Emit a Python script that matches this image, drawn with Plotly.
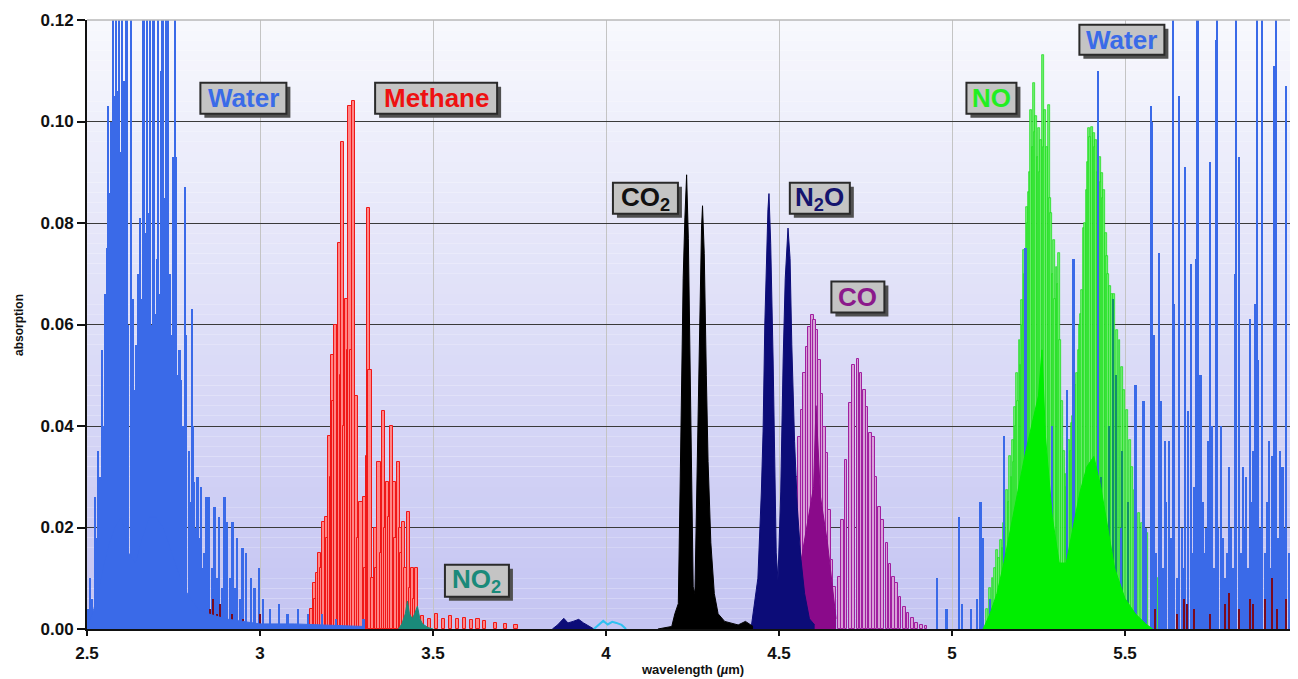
import plotly.graph_objects as go

# ---------------- data (wavelength in µm, absorption) ----------------
water_x = [2.503, 2.510, 2.516, 2.523, 2.528, 2.532, 2.537, 2.543, 2.548, 2.552, 2.555, 2.558, 2.561, 2.566, 2.569,
           2.575, 2.580, 2.584, 2.588, 2.592, 2.596, 2.601, 2.604, 2.609, 2.615, 2.620, 2.627, 2.633, 2.638,
           2.644, 2.648, 2.653, 2.659, 2.664, 2.668, 2.673, 2.679, 2.684, 2.689, 2.693, 2.699, 2.704, 2.707,
           2.710, 2.715, 2.719, 2.724, 2.728, 2.731, 2.733, 2.736, 2.740, 2.745, 2.750, 2.754, 2.759, 2.764,
           2.768, 2.772, 2.777, 2.781, 2.785, 2.788, 2.795, 2.799, 2.803, 2.808, 2.811, 2.816, 2.820, 2.825,
           2.831, 2.836, 2.840, 2.846, 2.850, 2.854, 2.862, 2.869, 2.876, 2.883, 2.890, 2.898, 2.906, 2.914,
           2.921, 2.928, 2.935, 2.942, 2.950, 2.961, 2.975, 2.985, 2.998, 3.010, 3.030, 3.055, 3.080, 3.110,
           3.140, 3.180, 3.220, 3.300,
           4.958, 4.985, 5.022, 5.030, 5.055, 5.072, 5.083, 5.091, 5.110, 5.150, 5.213, 5.290, 5.333, 5.350,
           5.352, 5.395, 5.422, 5.450, 5.490, 5.529, 5.531, 5.554, 5.560, 5.576, 5.578, 5.584, 5.585, 5.590,
           5.600, 5.604, 5.610, 5.616, 5.620, 5.628, 5.635, 5.640, 5.642, 5.650, 5.656, 5.657, 5.665, 5.670,
           5.675, 5.683, 5.691, 5.695, 5.700, 5.705, 5.710, 5.712, 5.715, 5.719, 5.725, 5.730, 5.735, 5.741,
           5.746, 5.752, 5.757, 5.763, 5.766, 5.770, 5.779, 5.785, 5.790, 5.795, 5.801, 5.808, 5.812, 5.818,
           5.822, 5.830, 5.835, 5.841, 5.845, 5.850, 5.855, 5.863, 5.868, 5.872, 5.878, 5.882, 5.885, 5.890,
           5.897, 5.905, 5.910, 5.918, 5.922, 5.927, 5.933, 5.936, 5.938, 5.943, 5.948, 5.956, 5.960, 5.967,
           5.975, 5.980, 5.986, 5.990, 5.995]
water_y = [0.004, 0.010, 0.006, 0.026, 0.018, 0.035, 0.030, 0.055, 0.040, 0.066, 0.050, 0.075, 0.103, 0.086, 0.100,
           0.150, 0.105, 0.150, 0.106, 0.150, 0.094, 0.150, 0.078, 0.108, 0.150, 0.060, 0.150, 0.065, 0.047,
           0.056, 0.070, 0.081, 0.065, 0.150, 0.078, 0.150, 0.082, 0.150, 0.060, 0.150, 0.062, 0.073, 0.150,
           0.066, 0.110, 0.150, 0.085, 0.150, 0.116, 0.066, 0.150, 0.070, 0.058, 0.093, 0.150, 0.093, 0.050,
           0.055, 0.049, 0.040, 0.030, 0.087, 0.058, 0.035, 0.025, 0.063, 0.040, 0.029, 0.020, 0.030, 0.018,
           0.028, 0.012, 0.015, 0.026, 0.010, 0.026, 0.012, 0.024, 0.010, 0.022, 0.008, 0.026, 0.021, 0.010,
           0.021, 0.008, 0.018, 0.006, 0.016, 0.015, 0.010, 0.008, 0.012, 0.006, 0.004, 0.005, 0.003, 0.004,
           0.003, 0.003, 0.002, 0.002,
           0.010, 0.004, 0.022, 0.005, 0.004, 0.006, 0.025, 0.018, 0.006, 0.038, 0.075, 0.040, 0.047, 0.061,
           0.073, 0.012, 0.110, 0.010, 0.020, 0.040, 0.048, 0.045, 0.020, 0.103, 0.100, 0.058, 0.055, 0.015,
           0.074, 0.045, 0.012, 0.037, 0.025, 0.037, 0.018, 0.150, 0.064, 0.010, 0.105, 0.102, 0.020, 0.012,
           0.091, 0.043, 0.072, 0.015, 0.028, 0.073, 0.150, 0.150, 0.020, 0.050, 0.025, 0.015, 0.020, 0.037,
           0.092, 0.040, 0.012, 0.116, 0.150, 0.020, 0.040, 0.018, 0.010, 0.015, 0.032, 0.020, 0.012, 0.070,
           0.150, 0.093, 0.015, 0.032, 0.020, 0.030, 0.012, 0.061, 0.025, 0.035, 0.064, 0.150, 0.053, 0.020,
           0.150, 0.015, 0.025, 0.037, 0.012, 0.034, 0.111, 0.150, 0.082, 0.018, 0.035, 0.032, 0.020, 0.107,
           0.015, 0.025, 0.101, 0.012, 0.050]

water_base_x = [2.500, 2.510, 2.520, 2.535, 2.550, 2.565, 2.580, 2.600, 2.620, 2.640, 2.660, 2.680, 2.700,
                2.720, 2.740, 2.760, 2.780, 2.800, 2.820, 2.850, 2.900, 2.950, 3.000, 3.100, 3.200, 3.300]
water_base_y = [0.001, 0.002, 0.004, 0.008, 0.013, 0.017, 0.020, 0.022, 0.015, 0.013, 0.018, 0.022, 0.022,
                0.020, 0.016, 0.012, 0.008, 0.006, 0.004, 0.003, 0.002, 0.0015, 0.001, 0.001, 0.0008, 0.0005]

methane_x = [3.150, 3.157, 3.162, 3.167, 3.173, 3.178, 3.183, 3.191, 3.196, 3.202, 3.206, 3.210, 3.214, 3.218,
             3.226, 3.231, 3.235, 3.239, 3.245, 3.250, 3.255, 3.260, 3.266, 3.270, 3.279, 3.285, 3.292, 3.301,
             3.306, 3.310, 3.313, 3.318, 3.325, 3.333, 3.338, 3.344, 3.350, 3.357, 3.362, 3.369, 3.375, 3.380,
             3.388, 3.393, 3.399, 3.405, 3.410, 3.416, 3.422, 3.429, 3.435, 3.440, 3.446, 3.452, 3.470, 3.490,
             3.510, 3.530, 3.550, 3.570, 3.590, 3.610, 3.630, 3.650, 3.680, 3.710, 3.740]
methane_y = [0.004, 0.009, 0.006, 0.011, 0.015, 0.012, 0.021, 0.022, 0.018, 0.038, 0.030, 0.054, 0.045, 0.060,
             0.045, 0.076, 0.050, 0.096, 0.040, 0.065, 0.055, 0.103, 0.055, 0.104, 0.046, 0.018, 0.025, 0.026,
             0.012, 0.034, 0.083, 0.051, 0.010, 0.020, 0.012, 0.033, 0.015, 0.043, 0.020, 0.029, 0.022, 0.040,
             0.029, 0.018, 0.033, 0.020, 0.015, 0.021, 0.012, 0.023, 0.008, 0.012, 0.006, 0.012, 0.0025, 0.002,
             0.003, 0.002, 0.0025, 0.002, 0.0022, 0.0018, 0.002, 0.0015, 0.0012, 0.001, 0.0008]

no2_x = [3.400, 3.410, 3.420, 3.426, 3.432, 3.440, 3.447, 3.455, 3.462, 3.470, 3.485, 3.500]
no2_y = [0.000, 0.001, 0.003, 0.0055, 0.003, 0.002, 0.003, 0.0045, 0.002, 0.001, 0.0003, 0.000]

hot_x = [3.845, 3.860, 3.878, 3.890, 3.905, 3.921, 3.935, 3.955, 3.965]
hot_y = [0.000, 0.0008, 0.0021, 0.0012, 0.0015, 0.0019, 0.0012, 0.0003, 0.000]

cyan_x = [3.965, 3.980, 3.992, 4.005, 4.018, 4.030, 4.045, 4.058]
cyan_y = [0.000, 0.0010, 0.0016, 0.0009, 0.0014, 0.0012, 0.0008, 0.000]

co2_x = [4.150, 4.190, 4.199, 4.209, 4.214, 4.218, 4.223, 4.228, 4.233, 4.238, 4.243, 4.247, 4.252, 4.257,
         4.262, 4.267, 4.271, 4.276, 4.279, 4.284, 4.290, 4.295, 4.303, 4.313, 4.324, 4.343, 4.382, 4.403, 4.425]
co2_y = [0.000, 0.0005, 0.003, 0.005, 0.027, 0.046, 0.069, 0.081, 0.0895, 0.077, 0.053, 0.027, 0.0083, 0.007,
         0.027, 0.050, 0.0675, 0.079, 0.0834, 0.074, 0.050, 0.033, 0.017, 0.007, 0.003, 0.0015, 0.0008, 0.0015, 0.0005]

n2o_x = [4.420, 4.430, 4.439, 4.449, 4.454, 4.459, 4.463, 4.468, 4.471, 4.476, 4.483, 4.488, 4.492, 4.497,
         4.505, 4.512, 4.518, 4.526, 4.532, 4.537, 4.545, 4.553, 4.563, 4.574, 4.588, 4.603]
n2o_y = [0.0005, 0.005, 0.010, 0.027, 0.039, 0.060, 0.073, 0.0826, 0.0858, 0.076, 0.053, 0.030, 0.015, 0.0097,
         0.027, 0.053, 0.069, 0.079, 0.073, 0.056, 0.037, 0.024, 0.014, 0.007, 0.002, 0.0008]

co_x = [4.478, 4.489, 4.502, 4.512, 4.521, 4.531, 4.540, 4.550, 4.560, 4.566, 4.574, 4.582, 4.588, 4.596,
        4.603, 4.610, 4.617, 4.624, 4.632, 4.639, 4.646, 4.653, 4.660, 4.675, 4.684, 4.694, 4.707, 4.716,
        4.728, 4.737, 4.747, 4.754, 4.764, 4.773, 4.780, 4.790, 4.799, 4.812, 4.821, 4.831, 4.840, 4.850,
        4.862, 4.873, 4.885, 4.898, 4.912, 4.925]
co_y = [0.0011, 0.0018, 0.0044, 0.0070, 0.0103, 0.0149, 0.0215, 0.030, 0.0379, 0.0432, 0.0504, 0.0556, 0.0596,
        0.0619, 0.0609, 0.0589, 0.053, 0.0464, 0.0399, 0.0346, 0.0234, 0.0136, 0.0083, 0.0103, 0.0215, 0.0333,
        0.0445, 0.052, 0.0533, 0.0504, 0.0471, 0.0438, 0.0386, 0.0379, 0.030, 0.0241, 0.0215, 0.0169, 0.0129,
        0.0103, 0.009, 0.0064, 0.0044, 0.0031, 0.0021, 0.0011, 0.0008, 0.0005]

co_dark_x = [4.500, 4.540, 4.560, 4.580, 4.600, 4.607, 4.612, 4.620, 4.640, 4.655, 4.665]
co_dark_y = [0.001, 0.005, 0.012, 0.020, 0.028, 0.044, 0.036, 0.026, 0.017, 0.008, 0.002]

no_x = [5.100, 5.110, 5.117, 5.124, 5.131, 5.136, 5.141, 5.146, 5.151, 5.156, 5.160, 5.164, 5.168, 5.172,
        5.175, 5.178, 5.181, 5.185, 5.189, 5.192, 5.195, 5.198, 5.201, 5.205, 5.208, 5.212, 5.216, 5.219,
        5.222, 5.226, 5.229, 5.233, 5.237, 5.241, 5.244, 5.248, 5.251, 5.255, 5.258, 5.263, 5.266, 5.270,
        5.275, 5.280, 5.284, 5.287, 5.291, 5.294, 5.298, 5.302, 5.306, 5.309, 5.313, 5.318, 5.323,
        5.328, 5.333, 5.338, 5.343, 5.347, 5.351, 5.354, 5.358, 5.362, 5.366, 5.369, 5.372, 5.376, 5.381,
        5.385, 5.389, 5.392, 5.395, 5.400, 5.405, 5.410, 5.414, 5.417, 5.422, 5.427, 5.431, 5.434, 5.437,
        5.440, 5.444, 5.448, 5.452, 5.456, 5.462, 5.469, 5.477, 5.484, 5.491, 5.498, 5.506, 5.514, 5.521,
        5.530, 5.540, 5.549, 5.564, 5.578, 5.592, 5.605]
no_y = [0.004, 0.008, 0.010, 0.012, 0.0155, 0.014, 0.0175, 0.016, 0.0208, 0.020, 0.0274, 0.025, 0.034, 0.030,
        0.0372, 0.033, 0.0438, 0.040, 0.0504, 0.045, 0.057, 0.052, 0.0648, 0.060, 0.0747, 0.070, 0.0832, 0.080,
        0.0862, 0.090, 0.1023, 0.095, 0.1075, 0.098, 0.101, 0.093, 0.0987, 0.090, 0.0964, 0.1131, 0.095, 0.1023,
        0.095, 0.1033, 0.085, 0.0819, 0.070, 0.0767, 0.065, 0.0714, 0.068, 0.074, 0.057, 0.045, 0.035,
        0.0306, 0.028, 0.0372, 0.035, 0.0405, 0.042, 0.045, 0.048, 0.0504, 0.055, 0.060, 0.062, 0.0668, 0.079,
        0.080, 0.0865, 0.092, 0.0987, 0.097, 0.0989, 0.0977, 0.095, 0.0964, 0.090, 0.0931, 0.088, 0.0898, 0.085,
        0.0865, 0.078, 0.0734, 0.070, 0.0675, 0.066, 0.066, 0.059, 0.057, 0.0517, 0.0471, 0.0431, 0.0372, 0.0320,
        0.0274, 0.0228, 0.0208, 0.0189, 0.0168, 0.010, 0.005]

no_base_x = [5.090, 5.110, 5.130, 5.150, 5.170, 5.190, 5.210, 5.230, 5.250, 5.260, 5.270, 5.290, 5.310, 5.330,
             5.350, 5.370, 5.390, 5.410, 5.430, 5.450, 5.470, 5.500, 5.530, 5.560, 5.580]
no_base_y = [0.000, 0.003, 0.007, 0.013, 0.020, 0.027, 0.034, 0.040, 0.046, 0.055, 0.038, 0.022, 0.013, 0.013,
             0.020, 0.027, 0.032, 0.034, 0.028, 0.020, 0.012, 0.006, 0.003, 0.001, 0.000]

no_hot_x = [5.200, 5.245, 5.300, 5.360, 5.400, 5.430, 5.455, 5.466, 5.475, 5.490, 5.510]
no_hot_y = [0.010, 0.012, 0.015, 0.020, 0.025, 0.030, 0.040, 0.065, 0.050, 0.035, 0.025]

misc_x = [2.855, 2.865, 2.875, 2.885, 2.900, 2.920, 2.950, 3.000, 5.586, 5.650, 5.672, 5.678, 5.700, 5.745,
          5.790, 5.800, 5.830, 5.860, 5.870, 5.905, 5.925, 5.940, 5.965, 5.980]
misc_y = [0.004, 0.006, 0.003, 0.005, 0.002, 0.003, 0.002, 0.003, 0.004, 0.003, 0.006, 0.005, 0.004, 0.003,
          0.005, 0.007, 0.004, 0.006, 0.005, 0.006, 0.010, 0.004, 0.006, 0.004]

x_ticks = [2.5, 3.0, 3.5, 4.0, 4.5, 5.0, 5.5, 6.0]
x_ticktext = ["2.5", "3", "3.5", "4", "4.5", "5", "5.5", "6"]
y_ticks = [0.00, 0.02, 0.04, 0.06, 0.08, 0.10, 0.12]

# label text, centre (µm, absorption), text colour, box size in px (w, h)
labels = [
    ("Water", 2.952, 0.1046, "#3a6be8", 86, 31),
    ("Methane", 3.509, 0.1046, "#ee1111", 122, 31),
    ("CO<sub>2</sub>", 4.114, 0.0849, "#111111", 65, 31),
    ("N<sub>2</sub>O", 4.618, 0.0849, "#14146e", 60, 31),
    ("CO", 4.728, 0.0654, "#8b1a8b", 53, 31),
    ("NO<sub>2</sub>", 3.627, 0.0095, "#1a8a7a", 64, 32),
    ("NO", 5.114, 0.1046, "#22ee22", 50, 31),
    ("Water", 5.491, 0.1161, "#3a6be8", 85, 30),
]

# ---------------- figure ----------------
fig = go.Figure()

fig.add_trace(go.Bar(x=co_x, y=co_y, width=0.0075,
                     marker=dict(color="#d8a0d8", line=dict(color="#a020a0", width=1))))
fig.add_trace(go.Scatter(x=co_dark_x, y=co_dark_y, mode="lines", fill="tozeroy",
                         line=dict(color="#8a0a8a", width=1), fillcolor="#8a0a8a"))
fig.add_trace(go.Scatter(x=n2o_x, y=n2o_y, mode="lines", fill="tozeroy",
                         line=dict(color="#0c0c78", width=1), fillcolor="#0c0c78"))
fig.add_trace(go.Scatter(x=co2_x, y=co2_y, mode="lines", fill="tozeroy",
                         line=dict(color="#000000", width=1), fillcolor="#000000"))
fig.add_trace(go.Scatter(x=hot_x, y=hot_y, mode="lines", fill="tozeroy",
                         line=dict(color="#0c0c78", width=1), fillcolor="#0c0c78"))
fig.add_trace(go.Scatter(x=cyan_x, y=cyan_y, mode="lines",
                         line=dict(color="#30c0f0", width=2)))
fig.add_trace(go.Bar(x=methane_x, y=methane_y, width=0.009,
                     marker=dict(color="#ff8686", line=dict(color="#f01818", width=1))))
fig.add_trace(go.Scatter(x=no2_x, y=no2_y, mode="lines", fill="tozeroy",
                         line=dict(color="#1a8a7a", width=1), fillcolor="#1a8a7a"))
fig.add_trace(go.Scatter(x=no_base_x, y=no_base_y, mode="lines", fill="tozeroy",
                         line=dict(color="#00ee00", width=1), fillcolor="#00ee00"))
fig.add_trace(go.Bar(x=no_x, y=no_y, width=0.0055,
                     marker=dict(color="#74ee74", line=dict(color="#12dd12", width=0.7))))
fig.add_trace(go.Bar(x=no_hot_x, y=no_hot_y, width=0.003,
                     marker=dict(color="#10906a", line=dict(width=0))))
fig.add_trace(go.Scatter(x=water_base_x, y=water_base_y, mode="lines", fill="tozeroy",
                         line=dict(color="#3a6ae8", width=1), fillcolor="#3a6ae8"))
fig.add_trace(go.Bar(x=water_x, y=water_y, width=0.0048,
                     marker=dict(color="#3a6ae8", line=dict(width=0))))
fig.add_trace(go.Bar(x=misc_x, y=misc_y, width=0.003,
                     marker=dict(color="#7a0a20", line=dict(width=0))))

# gradient plot background
n_bands = 60
top = (247, 248, 253)
bot = (196, 196, 242)
shapes = []
for i in range(n_bands):
    t = i / (n_bands - 1)
    c = tuple(int(round(bot[k] + (top[k] - bot[k]) * t)) for k in range(3))
    shapes.append(dict(type="rect", xref="x domain", yref="y domain", x0=0, x1=1,
                       y0=i / n_bands, y1=(i + 1) / n_bands, layer="below",
                       fillcolor="rgb(%d,%d,%d)" % c, line=dict(width=0)))
shapes.append(dict(type="line", xref="x domain", yref="y domain", x0=0, x1=1, y0=1, y1=1,
                   layer="above", line=dict(color="#b8b8b8", width=1.5)))

annotations = []
for text, x, y, col, w, h in labels:
    shapes.append(dict(type="rect", xref="x", yref="y", xsizemode="pixel", ysizemode="pixel",
                       xanchor=x, yanchor=y, x0=-w / 2 + 4, x1=w / 2 + 4, y0=-h / 2 - 4, y1=h / 2 - 4,
                       layer="above", fillcolor="#505050", line=dict(width=0)))
    shapes.append(dict(type="rect", xref="x", yref="y", xsizemode="pixel", ysizemode="pixel",
                       xanchor=x, yanchor=y, x0=-w / 2, x1=w / 2, y0=-h / 2, y1=h / 2,
                       layer="above", fillcolor="#c4c4c4", line=dict(color="#2a2a2a", width=2)))
    annotations.append(dict(x=x, y=y, text="<b>%s</b>" % text, showarrow=False,
                            font=dict(family="Liberation Sans, Arial", size=26, color=col)))

annotations.append(dict(xref="paper", yref="paper", x=0.5, y=-0.066, yanchor="middle",
                        text="<b>wavelength (<i>µ</i>m)</b>", showarrow=False,
                        font=dict(family="Liberation Sans, Arial", size=13, color="#111")))
annotations.append(dict(xref="paper", yref="paper", x=-0.064, y=0.5, textangle=-90,
                        text="<b>absorption</b>", showarrow=False,
                        font=dict(family="Liberation Sans, Arial", size=12, color="#111")))

# the page adds an 8px body margin, so the figure is 8px smaller and margins shifted
fig.update_layout(
    width=1290, height=671,
    margin=dict(l=79, r=0, t=12, b=50),
    paper_bgcolor="white", plot_bgcolor="white",
    barmode="overlay", bargap=0, showlegend=False,
    shapes=shapes, annotations=annotations,
    font=dict(family="Liberation Sans, Arial", color="#111"),
)
fig.update_xaxes(range=[2.5, 6.0], tickvals=x_ticks, ticktext=x_ticktext,
                 showgrid=True, gridcolor="#c4c4c4", gridwidth=1,
                 showline=True, linecolor="#111", linewidth=2,
                 ticks="outside", ticklen=5, tickcolor="#111", tickwidth=2,
                 tickfont=dict(size=17, weight="bold", color="#111"),
                 ticklabelstandoff=3,
                 ticklabeloverflow="allow", zeroline=False, automargin=False)
fig.update_yaxes(range=[0, 0.12], tickvals=y_ticks, tickformat=".2f",
                 showgrid=True, gridcolor="#3a3a3a", gridwidth=1,
                 showline=True, linecolor="#111", linewidth=2,
                 ticks="outside", ticklen=8, tickcolor="#111", tickwidth=2,
                 tickfont=dict(size=17, weight="bold", color="#111"),
                 zeroline=False, automargin=False)

fig.write_html("out.html")
